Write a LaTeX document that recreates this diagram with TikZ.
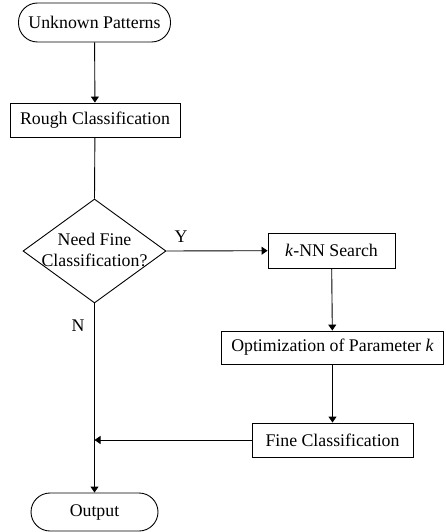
\documentclass[tikz,border=0pt]{standalone}
\usepackage{fontspec}
\setmainfont{Liberation Serif}
\usepackage{tikz}
\usetikzlibrary{arrows.meta,shapes.geometric}

\begin{document}
\begin{tikzpicture}[x=1pt, y=-1pt, line width=0.9pt,
    font=\fontsize{17.8}{21}\selectfont,
    procbox/.style={draw, rectangle, inner sep=0pt},
    termbox/.style={draw, rectangle, rounded corners=19pt, inner sep=0pt},
    decbox/.style={draw, diamond, inner sep=0pt, minimum width=143pt, minimum height=104pt},
    flow/.style={-{Triangle[length=6pt, width=8pt]}}]
        \useasboundingbox (0,0) rectangle (445,532);

        % Terminals
        \node[termbox, minimum width=152pt, minimum height=39pt] (start) at (94.5,22.5) {Unknown Patterns};
        \node[termbox, minimum width=127pt, minimum height=38pt] (output) at (94.5,512) {Output};

        % Steps
        \node[procbox, minimum width=170pt, minimum height=34pt] (rough) at (95,120) {Rough Classification};
        \node[procbox, minimum width=127pt, minimum height=35pt] (knn) at (331.5,250.5) {\textit{k}-NN Search};
        \node[procbox, minimum width=222pt, minimum height=33pt] (optim) at (332.5,347.5) {Optimization of Parameter \textit{k}};
        \node[procbox, minimum width=161pt, minimum height=34pt] (fine) at (332.5,440) {Fine Classification};

        % Decision
        \node[decbox] (decide) at (94.5,251) {};
        \node[align=center, inner sep=0pt] (decidetext) at (94.5,249.5) {Need Fine\\Classification?};

        % Labels
        \node (ylabel) at (181,237) {Y};
        \node (nlabel) at (78,326) {N};

        % Arrows
        \coordinate (join) at (decide.south |- fine.west);
        \draw[flow] (start) -- (rough);
        \draw (rough) -- (decide.north);
        \draw[flow] (decide.east) -- (knn);
        \draw[flow] (knn) -- (optim);
        \draw[flow] (optim) -- (fine);
        \draw[flow] (fine) -- (join);
        \draw[flow] (decide.south) -- (output);
    \end{tikzpicture}
\end{document}
